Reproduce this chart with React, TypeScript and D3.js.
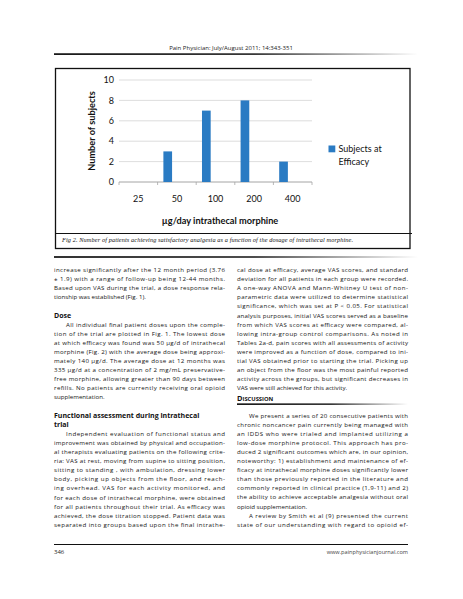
import React from "react";
import * as d3 from "d3";

// chart data
const doses = ["25", "50", "100", "200", "400"];
const subjects = [0, 3, 7, 8, 2];
const yTicks = [0, 2, 4, 6, 8, 10];
const seriesName = ["Subjects at", "Efficacy"];

// page text
const header = "Pain Physician: July/August 2011; 14:343-351";
const caption =
  "Fig 2. Number of  patients achieving satisfactory analgesia as a function of  the dosage of  intrathecal morphine.";

type Block = { head?: string[]; lines?: string[]; indent?: boolean; smallcaps?: boolean; runsOn?: boolean };

const leftCol: Block[] = [
  {
    lines: [
      "increase significantly after the 12 month period (3.76",
      "± 1.9) with a range of follow-up being 12-44 months.",
      "Based upon VAS during the trial, a dose response rela-",
      "tionship was established (Fig. 1).",
    ],
  },
  { head: ["Dose"] },
  {
    indent: true,
    lines: [
      "All individual final patient doses upon the comple-",
      "tion of the trial are plotted in Fig. 1. The lowest dose",
      "at which efficacy was found was 50 µg/d of intrathecal",
      "morphine (Fig. 2) with the average dose being approxi-",
      "mately 140 µg/d. The average dose at 12 months was",
      "335 µg/d at a concentration of 2 mg/mL preservative-",
      "free morphine, allowing greater than 90 days between",
      "refills. No patients are currently receiving oral opioid",
      "supplementation.",
    ],
  },
  { head: ["Functional assessment during intrathecal", "trial"] },
  {
    indent: true,
    runsOn: true,
    lines: [
      "Independent evaluation of functional status and",
      "improvement was obtained by physical and occupation-",
      "al therapists evaluating patients on the following crite-",
      "ria: VAS at rest, moving from supine to sitting position,",
      "sitting to standing , with ambulation, dressing lower",
      "body, picking up objects from the floor, and reach-",
      "ing overhead. VAS for each activity monitored, and",
      "for each dose of intrathecal morphine, were obtained",
      "for all patients throughout their trial. As efficacy was",
      "achieved, the dose titration stopped. Patient data was",
      "separated into groups based upon the final intrathe-",
    ],
  },
];

const rightCol: Block[] = [
  {
    lines: [
      "cal dose at efficacy, average VAS scores, and standard",
      "deviation for all patients in each group were recorded.",
      "A one-way ANOVA and Mann-Whitney U test of non-",
      "parametric data were utilized to determine statistical",
      "significance, which was set at P < 0.05. For statistical",
      "analysis purposes, initial VAS scores served as a baseline",
      "from which VAS scores at efficacy were compared, al-",
      "lowing intra-group control comparisons.  As noted in",
      "Tables 2a-d, pain scores with all assessments of activity",
      "were improved as a function of dose, compared to ini-",
      "tial VAS obtained prior to starting the trial. Picking up",
      "an object from the floor was the most painful reported",
      "activity across the groups, but significant decreases in",
      "VAS were still achieved for this activity.",
    ],
  },
  { head: ["Discussion"], smallcaps: true },
  {
    indent: true,
    lines: [
      "We present a series of 20 consecutive patients with",
      "chronic noncancer pain currently being managed with",
      "an IDDS who were trialed and implanted utilizing a",
      "low-dose morphine protocol. This approach has pro-",
      "duced 2 significant outcomes which are, in our opinion,",
      "noteworthy: 1) establishment and maintenance of ef-",
      "ficacy at intrathecal morphine doses significantly lower",
      "than those previously reported in the literature and",
      "commonly reported in clinical practice (1,9-11) and 2)",
      "the ability to achieve acceptable analgesia without oral",
      "opioid supplementation.",
    ],
  },
  {
    indent: true,
    runsOn: true,
    lines: [
      "A review by Smith et al (9) presented the current",
      "state of our understanding with regard to opioid ef-",
    ],
  },
];

const W = 463;
const H = 599;
const LH = 9.1;

function Column({ blocks, x0, x1, y0 }: { blocks: Block[]; x0: number; x1: number; y0: number }) {
  const out: React.ReactNode[] = [];
  let y = y0;
  blocks.forEach((b, bi) => {
    if (b.head) {
      if (b.smallcaps) {
        y += 2;
        const h = b.head[0];
        out.push(
          <g key={`h${bi}`}>
            <text x={x0} y={y} fontFamily="Open Sans, sans-serif" fontWeight="700" fontSize={7.4} fill="#111">
              <tspan>{h[0]}</tspan>
              <tspan fontSize={5.8}>{h.slice(1).toUpperCase()}</tspan>
            </text>
            <rect x={x0} y={y + 2} width={x1 - x0} height={1.5} fill="url(#fadeRule)" />
          </g>
        );
        y += 16.1;
      } else {
        if (bi > 0) y += LH;
        b.head.forEach((h, hi) => {
          out.push(
            <text key={`h${bi}-${hi}`} x={x0} y={y} fontFamily="Open Sans, sans-serif" fontWeight="700" fontSize={7} fill="#111">
              {h}
            </text>
          );
          y += LH;
        });
      }
    }
    if (b.lines) {
      b.lines.forEach((ln, li) => {
        const ind = b.indent && li === 0 ? 12 : 0;
        const last = li === b.lines!.length - 1 && !b.runsOn;
        out.push(
          <text
            key={`l${bi}-${li}`}
            x={x0 + ind}
            y={y}
            fontFamily="Open Sans, sans-serif"
            fontSize={6.15}
            fill="#151515"
            {...(last ? {} : { textLength: x1 - x0 - ind, lengthAdjust: "spacing" })}
          >
            {ln}
          </text>
        );
        y += LH;
      });
    }
  });
  return <g>{out}</g>;
}

export default function App() {
  // chart geometry
  const x = d3.scaleBand<string>().domain(doses).range([119, 312]).padding(0);
  const y = d3.scaleLinear().domain([0, 10]).range([182, 80]);
  const bw = x.bandwidth();
  const bounds = [...doses.map((d) => x(d)!), 312];

  return (
    <svg width={W} height={H} style={{ position: "absolute", left: 0, top: 0, background: "#fff" }}>
      <defs>
        <linearGradient id="fadeRule" x1="0" x2="1" y1="0" y2="0">
          <stop offset="0%" stopColor="#000" />
          <stop offset="55%" stopColor="#222" />
          <stop offset="100%" stopColor="#fff" />
        </linearGradient>
      </defs>

      {/* running header */}
      <text x={231} y={49.5} textAnchor="middle" fontFamily="Open Sans, sans-serif" fontSize={6} fill="#222">
        {header}
      </text>
      <rect x={54} y={53.3} width={364} height={1.6} fill="url(#fadeRule)" />

      {/* figure box */}
      <rect x={55.5} y={68.5} width={354.5} height={180} fill="none" stroke="#111" strokeWidth={1.3} />
      <line x1={55.5} x2={412} y1={233.5} y2={233.5} stroke="#111" strokeWidth={1} />
      <text
        x={62}
        y={241.5}
        fontFamily="Liberation Serif, serif"
        fontStyle="italic"
        fontSize={6.3}
        fill="#111"
        textLength={291}
        lengthAdjust="spacing"
      >
        {caption}
      </text>
      <rect x={54} y={256.2} width={364} height={1.6} fill="url(#fadeRule)" />

      {/* gridlines */}
      {yTicks.map((t) => (
        <line key={`g${t}`} x1={119} x2={312} y1={y(t)} y2={y(t)} stroke="#d4d4d4" strokeWidth={0.8} />
      ))}
      {/* x axis line + ticks */}
      <line x1={119} x2={312} y1={y(0)} y2={y(0)} stroke="#a6a6a6" strokeWidth={0.8} />
      {bounds.map((b, i) => (
        <line key={`t${i}`} x1={b} x2={b} y1={y(0)} y2={y(0) + 3} stroke="#a6a6a6" strokeWidth={0.8} />
      ))}
      {/* y tick labels */}
      {yTicks.map((t) => (
        <text key={`yl${t}`} x={114} y={y(t) + 3.2} textAnchor="end" fontFamily="Lato, sans-serif" fontSize={9} fill="#111">
          {t}
        </text>
      ))}
      {/* bars */}
      {doses.map((d, i) => (
        <rect
          key={`b${d}`}
          x={x(d)! + bw * 0.15}
          y={y(subjects[i])}
          width={bw * 0.225}
          height={y(0) - y(subjects[i])}
          fill="#2a7bc3"
        />
      ))}
      {/* x tick labels */}
      {doses.map((d) => (
        <text key={`xl${d}`} x={x(d)! + bw / 2} y={202} textAnchor="middle" fontFamily="Lato, sans-serif" fontSize={9} fill="#111">
          {d}
        </text>
      ))}
      {/* axis titles */}
      <text x={220} y={224} textAnchor="middle" fontFamily="Lato, sans-serif" fontWeight="700" fontSize={9.2} fill="#111">
        µg/day intrathecal morphine
      </text>
      <text
        transform={`translate(94.5,${(y(0) + y(10)) / 2}) rotate(-90)`}
        textAnchor="middle"
        fontFamily="Lato, sans-serif"
        fontWeight="700"
        fontSize={9.2}
        fill="#111"
      >
        Number of subjects
      </text>
      {/* legend */}
      <rect x={328.5} y={145.5} width={6.8} height={6.8} fill="#2a7bc3" />
      {seriesName.map((s, i) => (
        <text key={s} x={338.5} y={152.3 + i * 13} fontFamily="Lato, sans-serif" fontSize={9} fill="#111">
          {s}
        </text>
      ))}

      {/* body text */}
      <Column blocks={leftCol} x0={54} x1={225} y0={272} />
      <Column blocks={rightCol} x0={237} x1={408} y0={272} />

      {/* footer */}
      <line x1={54} x2={408} y1={544.5} y2={544.5} stroke="#111" strokeWidth={1} />
      <text x={54} y={554} fontFamily="Open Sans, sans-serif" fontSize={6} fill="#222">
        346
      </text>
      <text x={408} y={554} textAnchor="end" fontFamily="Open Sans, sans-serif" fontSize={5.6} fill="#444">
        www.painphysicianjournal.com
      </text>
    </svg>
  );
}
